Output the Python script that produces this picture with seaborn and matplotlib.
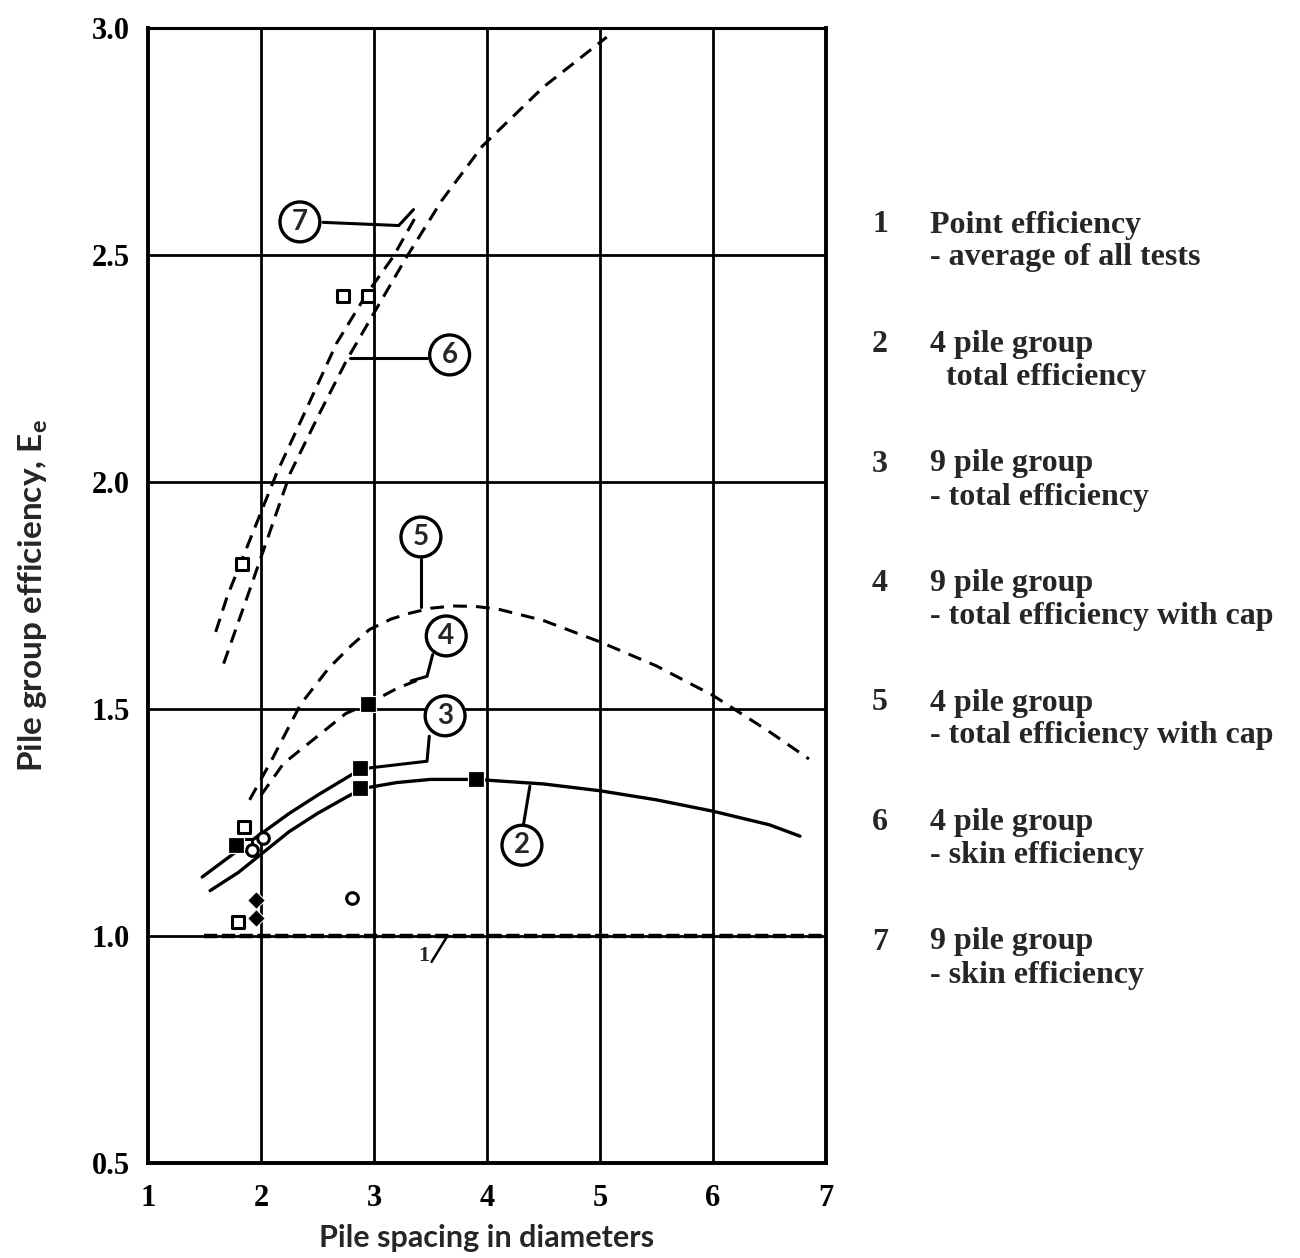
import numpy as np
import pandas as pd
import matplotlib
matplotlib.use("Agg")
import matplotlib.pyplot as plt
import seaborn as sns

# curve data (x = pile spacing / diameter, y = efficiency)
c1_x = [1.5, 7.0]
c1_y = [1.0, 1.0]
c2_x = [1.55, 1.8, 2.0, 2.25, 2.5, 2.75, 2.9, 3.2, 3.5, 3.9, 4.5, 5.0, 5.5, 6.0, 6.5, 6.77]
c2_y = [1.10, 1.14, 1.18, 1.23, 1.27, 1.305, 1.325, 1.338, 1.345, 1.345, 1.335, 1.32, 1.30,
        1.275, 1.245, 1.22]
c3_x = [1.48, 1.75, 2.0, 2.25, 2.5, 2.7, 2.9]
c3_y = [1.13, 1.18, 1.225, 1.27, 1.31, 1.34, 1.37]
c4_x = [2.0, 2.2, 2.5, 2.75, 2.96, 3.2, 3.4]
c4_y = [1.31, 1.38, 1.44, 1.49, 1.513, 1.545, 1.565]
c5_x = [1.9, 2.1, 2.35, 2.6, 2.8, 2.96, 3.15, 3.3, 3.5, 3.7, 3.9, 4.1, 4.5, 5.0, 5.5, 6.0, 6.5, 6.85]
c5_y = [1.30, 1.39, 1.51, 1.59, 1.64, 1.675, 1.698, 1.71, 1.722, 1.727, 1.726, 1.72, 1.695,
        1.648, 1.595, 1.53, 1.45, 1.39]
c6_x = [1.67, 1.90, 2.26, 2.52, 2.76, 3.03, 3.29, 3.6, 3.96, 4.5, 5.06]
c6_y = [1.60, 1.762, 2.02, 2.152, 2.269, 2.385, 2.496, 2.62, 2.74, 2.87, 2.98]
c7_x = [1.60, 1.70, 2.14, 2.41, 2.67, 2.94, 3.17, 3.36]
c7_y = [1.67, 1.747, 2.02, 2.165, 2.306, 2.416, 2.496, 2.58]

# test points
open_sq_x = [1.80, 1.85, 1.87, 1.83, 2.73, 2.95]
open_sq_y = [1.03, 1.24, 1.20, 1.82, 2.41, 2.41]
open_ci_x = [1.92, 2.02, 2.81]
open_ci_y = [1.19, 1.215, 1.084]
fill_sq_x = [2.95, 2.88, 2.88, 3.9, 1.78]
fill_sq_y = [1.51, 1.37, 1.325, 1.345, 1.20]
fill_di_x = [1.96, 1.96]
fill_di_y = [1.08, 1.04]

x_ticks = [1, 2, 3, 4, 5, 6, 7]
y_ticks = [0.5, 1.0, 1.5, 2.0, 2.5, 3.0]

key_nums = ["1", "2", "3", "4", "5", "6", "7"]
key_top = ["Point efficiency", "4 pile group", "9 pile group", "9 pile group",
           "4 pile group", "4 pile group", "9 pile group"]
key_sub = ["- average of all tests", "  total efficiency", "- total efficiency",
           "- total efficiency with cap", "- total efficiency with cap",
           "- skin efficiency", "- skin efficiency"]

sns.set_style("white")
plt.rcParams["font.family"] = ["Liberation Serif", "DejaVu Serif"]
plt.rcParams["font.weight"] = "bold"

fig = plt.figure(figsize=(13, 12.58), dpi=100)
ax = fig.add_axes([0.1138, 0.0755, 0.5215, 0.9022])

for v in x_ticks[1:-1]:
    ax.axvline(v, color="black", lw=2.0, zorder=1)
for v in y_ticks[1:-1]:
    ax.axhline(v, color="black", lw=2.0, zorder=1)

k = dict(color="black", sort=False, legend=False, ax=ax, zorder=3)
sns.lineplot(x=c1_x, y=c1_y, lw=3.2, linestyle=(0, (3, 1)), **k)
sns.lineplot(x=c2_x, y=c2_y, lw=2.4, **k)
sns.lineplot(x=c3_x, y=c3_y, lw=2.4, **k)
sns.lineplot(x=c4_x, y=c4_y, lw=2.2, linestyle=(0, (4.5, 3)), **k)
sns.lineplot(x=c5_x, y=c5_y, lw=2.2, linestyle=(0, (4.5, 3)), **k)
sns.lineplot(x=c6_x, y=c6_y, lw=2.2, linestyle=(0, (4.5, 2.8)), **k)
sns.lineplot(x=c7_x, y=c7_y, lw=2.2, linestyle=(0, (4.5, 2.8)), **k)

sns.scatterplot(x=open_sq_x, y=open_sq_y, marker="s", s=70, facecolor="white",
                edgecolor="black", linewidth=2.2, ax=ax, zorder=4)
sns.scatterplot(x=open_ci_x, y=open_ci_y, marker="o", s=70, facecolor="white",
                edgecolor="black", linewidth=2.2, ax=ax, zorder=4)
sns.scatterplot(x=fill_sq_x, y=fill_sq_y, marker="s", s=120, color="black",
                ax=ax, zorder=4)
sns.scatterplot(x=fill_di_x, y=fill_di_y, marker="D", s=80, color="black",
                ax=ax, zorder=4)

# circled curve numbers with leaders
circ = dict(boxstyle="circle,pad=0.25", fc="white", ec="black", lw=2.4)
labels = [("7", 2.345, 2.573, [2.55, 3.22, 3.35], [2.572, 2.565, 2.60]),
          ("6", 3.67, 2.28, [3.47, 2.79], [2.273, 2.273]),
          ("5", 3.416, 1.879, [3.416, 3.416], [1.83, 1.725]),
          ("4", 3.64, 1.661, [3.52, 3.47, 3.33], [1.62, 1.572, 1.562]),
          ("3", 3.63, 1.485, [3.49, 3.47, 2.95], [1.44, 1.385, 1.37]),
          ("2", 4.31, 1.20, [4.32, 4.38], [1.24, 1.33])]
for txt, lx, ly, px, py in labels:
    ax.plot(px, py, color="black", lw=2.2, zorder=3)
    ax.text(lx, ly, txt, ha="center", va="center", fontsize=20,
            family=["Lato", "DejaVu Sans"], bbox=circ, zorder=5)
ax.text(3.44, 0.955, "1", ha="center", va="center", fontsize=16)
ax.plot([3.51, 3.65], [0.943, 1.0], color="black", lw=1.8, zorder=3)

ax.set_xlim(1, 7)
ax.set_ylim(0.5, 3.0)
ax.set_xticks(x_ticks)
ax.set_xticklabels([str(v) for v in x_ticks])
ax.set_yticks(y_ticks)
ax.set_yticklabels([f"{v:.1f}" for v in y_ticks])
ax.tick_params(axis="both", labelsize=22, length=5, width=2, direction="out",
               colors="black")
ax.tick_params(axis="x", pad=10)
ax.tick_params(axis="y", pad=8)
for name, sp in ax.spines.items():
    sp.set_visible(True)
    sp.set_color("black")
    sp.set_linewidth(2.8 if name != "top" else 2.2)

ax.set_xlabel("Pile spacing in diameters", fontsize=22,
              family=["Lato", "DejaVu Sans"], fontweight="bold", labelpad=8)
ax.set_ylabel("Pile group efficiency, E$_\\mathregular{e}$", fontsize=24,
              family=["Lato", "DejaVu Sans"], fontweight="bold", labelpad=30)

# key on the right
for i in range(7):
    y0 = 1 - (225 + 119.5 * i) / 1258
    fig.text(880 / 1300, y0, key_nums[i], ha="center", va="center", fontsize=23)
    fig.text(930 / 1300, y0, key_top[i], ha="left", va="center", fontsize=23)
    fig.text(930 / 1300, y0 - 33 / 1258, key_sub[i], ha="left", va="center",
             fontsize=23)

fig.savefig("out.png", dpi=100, facecolor="white")
